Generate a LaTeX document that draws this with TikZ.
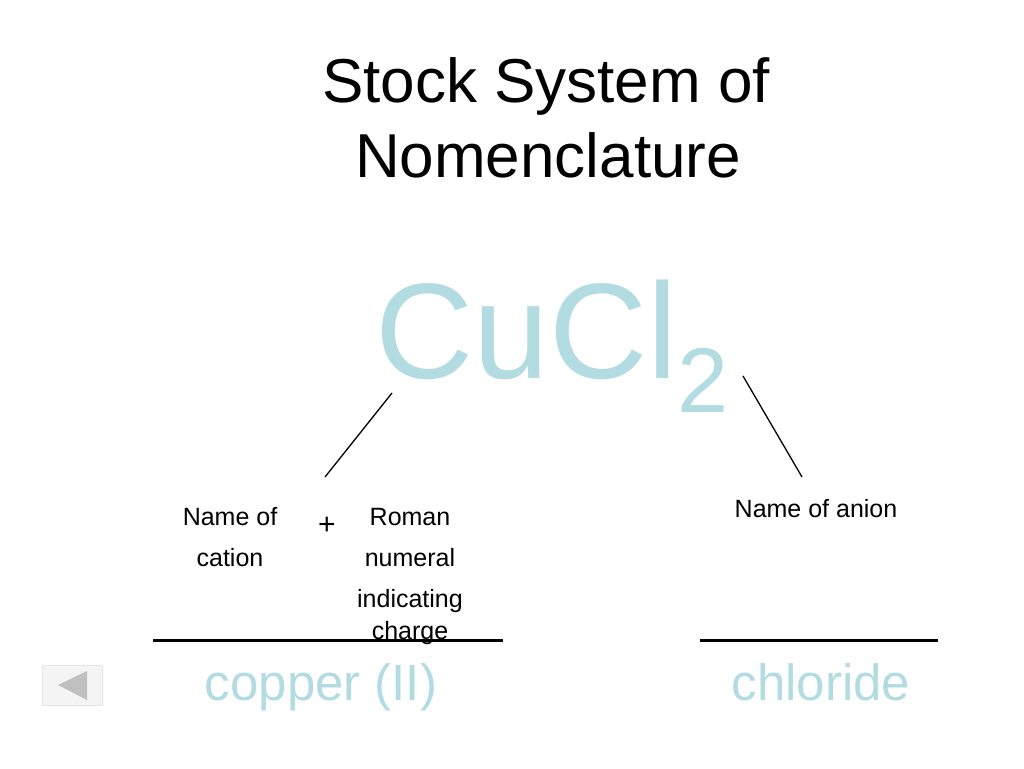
\documentclass[tikz,border=0pt]{standalone}
\usepackage{fontspec}
\setmainfont{Liberation Sans}
\usepackage{tikz}
\usetikzlibrary{positioning}

\definecolor{chemcyan}{RGB}{178,220,226}
\definecolor{btnfill}{RGB}{244,244,244}
\definecolor{btnedge}{RGB}{228,228,228}
\definecolor{btnarrow}{RGB}{192,192,192}

\begin{document}
\begin{tikzpicture}[x=1pt,y=-1pt,
	label/.style={inner sep=0pt, anchor=base, font=\fontsize{25}{41}\selectfont, align=center},
	answer/.style={inner sep=0pt, anchor=base, text=chemcyan, font=\fontsize{51}{60}\selectfont},
	blank/.style={line width=3pt}]

	\useasboundingbox (0,0) rectangle (1024,768);
	% Title %
	\node [inner sep=0pt, anchor=base, font=\fontsize{62}{75}\selectfont] (titleA) at (546,102) {Stock System of};
	\node [inner sep=0pt, anchor=base, font=\fontsize{62}{75}\selectfont] (titleB) at (548,177) {Nomenclature};
	% Formula %
	\node [inner sep=0pt, anchor=base west, text=chemcyan, font=\fontsize{136}{140}\selectfont] (formula) at (375,378) {CuCl\raisebox{-34pt}{\fontsize{92}{92}\selectfont 2}};
	% Pointers %
	\coordinate (cuTip) at (392,393);
	\coordinate (cuFoot) at (325,477);
	\coordinate (clTip) at (743,376);
	\coordinate (clFoot) at (802,477);
	\draw [line width=1.3pt] (cuTip) -- (cuFoot);
	\draw [line width=1.3pt] (clTip) -- (clFoot);
	% Labels (base = last line) %
	\node [label] (cation) at (230,566) {Name of\\cation};
	\node [inner sep=0pt, anchor=base, font=\fontsize{30}{30}\selectfont] (plus) at (327,534) {+};
	\node [label] (roman) at (410,639) {Roman\\numeral\\indicating\\[-9pt]charge};
	\node [label] (anion) at (816,517) {Name of anion};
	% Blanks %
	\coordinate (blankAL) at (153,640);
	\coordinate (blankAR) at (503,640);
	\coordinate (blankBL) at (700,640);
	\coordinate (blankBR) at (938,640);
	\draw [blank] (blankAL) -- (blankAR);
	\draw [blank] (blankBL) -- (blankBR);
	% Answers %
	\node [answer] (copper) at (321,700) {copper (II)};
	\node [answer] (chloride) at (821,700) {chloride};
	% Back button %
	\draw [fill=btnfill, draw=btnedge] (42,665) rectangle (102,705);
	\fill [btnarrow] (58,685) -- (87,671) -- (87,700) -- cycle;
\end{tikzpicture}
\end{document}
